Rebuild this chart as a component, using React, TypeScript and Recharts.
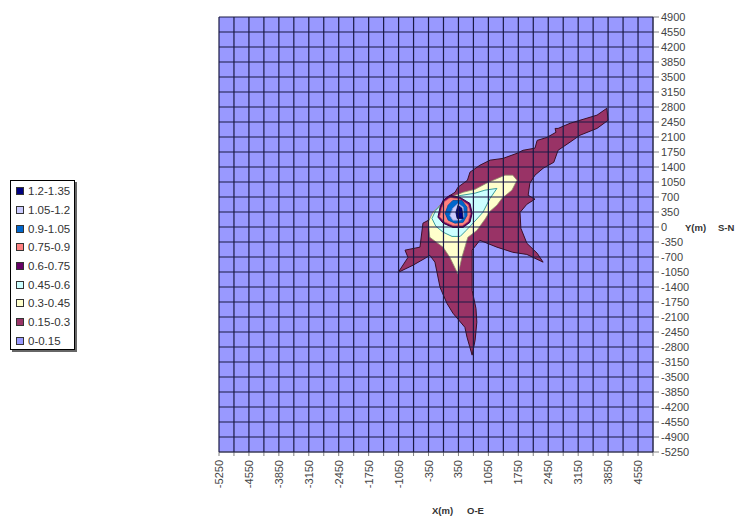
import { ScatterChart, Scatter, XAxis, YAxis, CartesianGrid, Label } from "recharts";

// legend order: highest band first
const BANDS = ["1.2-1.35", "1.05-1.2", "0.9-1.05", "0.75-0.9", "0.6-0.75", "0.45-0.6", "0.3-0.45", "0.15-0.3", "0-0.15"];
const BAND_COLORS = ["#000080", "#CCCCFF", "#0066CC", "#FF8080", "#660066", "#CCFFFF", "#FFFFCC", "#993366", "#9999FF"];

const X_TICKS = [-5250, -4900, -4550, -4200, -3850, -3500, -3150, -2800, -2450, -2100, -1750, -1400, -1050, -700, -350, 0, 350, 700, 1050, 1400, 1750, 2100, 2450, 2800, 3150, 3500, 3850, 4200, 4550, 4900];
const X_LABELS = [-5250, -4550, -3850, -3150, -2450, -1750, -1050, -350, 350, 1050, 1750, 2450, 3150, 3850, 4550];
const Y_TICKS = [4900, 4550, 4200, 3850, 3500, 3150, 2800, 2450, 2100, 1750, 1400, 1050, 700, 350, 0, -350, -700, -1050, -1400, -1750, -2100, -2450, -2800, -3150, -3500, -3850, -4200, -4550, -4900, -5250];

// contour outlines in metres (x = O-E, y = S-N), lowest band first
const BAND_015 = [
  { x: 3820, y: 2770 }, { x: 3850, y: 2490 }, { x: 3590, y: 2300 }, { x: 3190, y: 2140 },
  { x: 2960, y: 1980 }, { x: 2680, y: 1790 }, { x: 2580, y: 1510 }, { x: 2330, y: 1370 },
  { x: 2140, y: 1210 }, { x: 2020, y: 1020 }, { x: 1980, y: 740 }, { x: 2140, y: 650 },
  { x: 1950, y: 530 }, { x: 1790, y: 340 }, { x: 1810, y: -30 }, { x: 1950, y: -380 },
  { x: 2190, y: -610 }, { x: 2330, y: -820 }, { x: 1950, y: -640 }, { x: 1620, y: -590 },
  { x: 1250, y: -470 }, { x: 850, y: -310 }, { x: 670, y: -540 }, { x: 670, y: -1010 },
  { x: 670, y: -1480 }, { x: 760, y: -1900 }, { x: 780, y: -2220 }, { x: 740, y: -2640 },
  { x: 670, y: -2990 }, { x: 550, y: -2570 }, { x: 500, y: -2340 }, { x: 220, y: -2010 },
  { x: 80, y: -1780 }, { x: -80, y: -1410 }, { x: -200, y: -820 }, { x: -320, y: -660 },
  { x: -430, y: -730 }, { x: -710, y: -890 }, { x: -1060, y: -1060 }, { x: -830, y: -710 },
  { x: -900, y: -540 }, { x: -550, y: -470 }, { x: -480, y: 90 }, { x: -270, y: 200 },
  { x: -80, y: 510 }, { x: 80, y: 690 }, { x: 270, y: 810 }, { x: 340, y: 930 },
  { x: 560, y: 1090 }, { x: 620, y: 1280 }, { x: 850, y: 1440 }, { x: 1090, y: 1560 },
  { x: 1390, y: 1600 }, { x: 1720, y: 1720 }, { x: 1860, y: 1790 }, { x: 2140, y: 1840 },
  { x: 2190, y: 2020 }, { x: 2420, y: 2090 }, { x: 2630, y: 2210 }, { x: 2610, y: 2300 },
  { x: 2680, y: 2300 }, { x: 2960, y: 2420 }, { x: 3190, y: 2490 }, { x: 3590, y: 2610 },
];

const BAND_030 = [
  { x: 740, y: 880 }, { x: 1040, y: 1040 }, { x: 1440, y: 1210 }, { x: 1620, y: 1210 },
  { x: 1720, y: 1090 }, { x: 1600, y: 860 }, { x: 1370, y: 670 }, { x: 1250, y: 510 },
  { x: 1090, y: 370 }, { x: 970, y: 180 }, { x: 780, y: -80 }, { x: 570, y: -240 },
  { x: 430, y: -710 }, { x: 340, y: -1100 }, { x: 150, y: -710 }, { x: -10, y: -470 },
  { x: -320, y: -240 }, { x: -360, y: 110 }, { x: -250, y: 340 }, { x: -60, y: 530 },
  { x: 150, y: 690 }, { x: 460, y: 810 },
];

const BAND_045 = [
  { x: 1250, y: 900 }, { x: 1090, y: 670 }, { x: 920, y: 340 }, { x: 710, y: 110 },
  { x: 530, y: -80 }, { x: 390, y: -220 }, { x: 200, y: -220 }, { x: -10, y: -120 },
  { x: -180, y: 20 }, { x: -270, y: 200 }, { x: -180, y: 390 }, { x: -10, y: 550 },
  { x: 200, y: 690 }, { x: 430, y: 740 }, { x: 740, y: 790 }, { x: 970, y: 860 },
];

const BAND_060 = [
  { x: -80, y: 460 }, { x: -10, y: 620 }, { x: 150, y: 740 }, { x: 390, y: 690 },
  { x: 620, y: 550 }, { x: 670, y: 320 }, { x: 620, y: 110 }, { x: 460, y: -10 },
  { x: 220, y: -10 }, { x: -10, y: 90 }, { x: -130, y: 230 },
];

const BAND_075 = [
  { x: -40, y: 450 }, { x: 20, y: 590 }, { x: 160, y: 690 }, { x: 380, y: 650 },
  { x: 580, y: 520 }, { x: 630, y: 320 }, { x: 580, y: 130 }, { x: 440, y: 30 },
  { x: 230, y: 30 }, { x: 20, y: 120 }, { x: -90, y: 240 },
];

const BAND_090 = [
  { x: 110, y: 510 }, { x: 220, y: 620 }, { x: 430, y: 620 }, { x: 550, y: 460 },
  { x: 550, y: 270 }, { x: 460, y: 110 }, { x: 270, y: 90 }, { x: 110, y: 160 },
  { x: 40, y: 320 },
];

const BAND_105 = [
  { x: 220, y: 440 }, { x: 340, y: 550 }, { x: 460, y: 460 }, { x: 480, y: 230 },
  { x: 390, y: 160 }, { x: 220, y: 160 }, { x: 150, y: 270 },
];

const BAND_120 = [
  { x: 340, y: 510 }, { x: 430, y: 440 }, { x: 460, y: 200 }, { x: 320, y: 200 },
  { x: 290, y: 340 },
];

const FONT = "'Liberation Sans', Arial, sans-serif";

type Pt = { x: number; y: number };
const closeRing = (pts: Pt[]) => [...pts, pts[0]];

// drawn bottom-up so higher bands sit on top
const CONTOURS = [
  { name: "0.15-0.3", pts: BAND_015, fill: BAND_COLORS[7], stroke: "#3a0f26", width: 1 },
  { name: "0.3-0.45", pts: BAND_030, fill: BAND_COLORS[6], stroke: "#8f8f70", width: 0.8 },
  { name: "0.45-0.6", pts: BAND_045, fill: BAND_COLORS[5], stroke: "#3a9c9c", width: 1 },
  { name: "0.6-0.75", pts: BAND_060, fill: BAND_COLORS[4], stroke: "#440044", width: 1 },
  { name: "0.75-0.9", pts: BAND_075, fill: BAND_COLORS[3], stroke: "#d06060", width: 0.8 },
  { name: "0.9-1.05", pts: BAND_090, fill: BAND_COLORS[2], stroke: "#004c99", width: 0.8 },
  { name: "1.05-1.2", pts: BAND_105, fill: BAND_COLORS[1], stroke: "#9999cc", width: 0.8 },
  { name: "1.2-1.35", pts: BAND_120, fill: BAND_COLORS[0], stroke: "#000040", width: 0.8 },
];

const XTick = (props: any) => {
  const { x, y, payload } = props;
  if (!X_LABELS.includes(payload.value)) return <g />;
  return (
    <text
      x={x}
      y={y}
      transform={`rotate(-90 ${x} ${y})`}
      textAnchor="end"
      dominantBaseline="central"
      fontSize={11}
      fill="#444"
      fontFamily={FONT}
    >
      {payload.value}
    </text>
  );
};

const NoDot = () => <g />;

function ContourLegend() {
  return (
    <div
      style={{
        position: "absolute",
        left: 10,
        top: 180,
        width: 65,
        height: 170,
        background: "#fff",
        border: "1px solid #000",
        boxShadow: "2px 2px 0 #666",
        paddingTop: 1,
        boxSizing: "border-box",
        fontFamily: FONT,
        fontSize: 11.5,
        color: "#333",
      }}
    >
      {BANDS.map((b, i) => (
        <div key={b} style={{ height: 18.7, display: "flex", alignItems: "center" }}>
          <span
            style={{
              display: "inline-block",
              width: 6,
              height: 6,
              marginLeft: 5,
              marginRight: 4,
              background: BAND_COLORS[i],
              border: "1px solid #333",
            }}
          />
          <span>{b}</span>
        </div>
      ))}
    </div>
  );
}

export default function App() {
  return (
    <div style={{ position: "absolute", left: 0, top: 0, width: 744, height: 521, background: "#fff", fontFamily: FONT }}>
      <ScatterChart width={744} height={521} margin={{ top: 17, right: 31, bottom: 19, left: 219 }}>
        <CartesianGrid fill="#9999FF" fillOpacity={1} stroke="none" horizontal={false} vertical={false} />
        <XAxis
          type="number"
          dataKey="x"
          domain={[-5250, 4900]}
          ticks={X_TICKS}
          interval={0}
          height={50}
          tick={<XTick />}
          tickSize={4}
          tickMargin={4}
          axisLine={{ stroke: "#808080" }}
          tickLine={{ stroke: "#808080" }}
          allowDataOverflow
        >
          <Label
            content={({ viewBox }: any) => (
              <text y={viewBox.y + 58} fontSize={9.5} fontWeight="bold" fill="#333" fontFamily={FONT} dominantBaseline="central">
                <tspan x={viewBox.x + 213}>X(m)</tspan>
                <tspan x={viewBox.x + 248}>O-E</tspan>
              </text>
            )}
          />
        </XAxis>
        <YAxis
          type="number"
          dataKey="y"
          orientation="right"
          domain={[-5250, 4900]}
          ticks={Y_TICKS}
          interval={0}
          width={60}
          tick={{ fontSize: 11, fill: "#444", fontFamily: FONT }}
          tickSize={6}
          tickMargin={2}
          axisLine={{ stroke: "#808080" }}
          tickLine={{ stroke: "#808080" }}
          allowDataOverflow
        >
          <Label
            content={({ viewBox }: any) => (
              <text y={viewBox.y + viewBox.height / 2 - 8} fontSize={9.5} fontWeight="bold" fill="#333" fontFamily={FONT} dominantBaseline="central">
                <tspan x={viewBox.x + 32}>Y(m)</tspan>
                <tspan x={viewBox.x + 65}>S-N</tspan>
              </text>
            )}
          />
        </YAxis>
        {CONTOURS.map((c) => (
          <Scatter
            key={c.name}
            name={c.name}
            data={closeRing(c.pts)}
            line={{ fill: c.fill, stroke: c.stroke, strokeWidth: c.width }}
            lineType="joint"
            shape={NoDot}
            fill={c.fill}
            legendType="none"
            isAnimationActive={false}
          />
        ))}
        <CartesianGrid stroke="#1a1a45" strokeWidth={1.2} fill="none" zIndex={700} />
      </ScatterChart>
      <ContourLegend />
    </div>
  );
}
